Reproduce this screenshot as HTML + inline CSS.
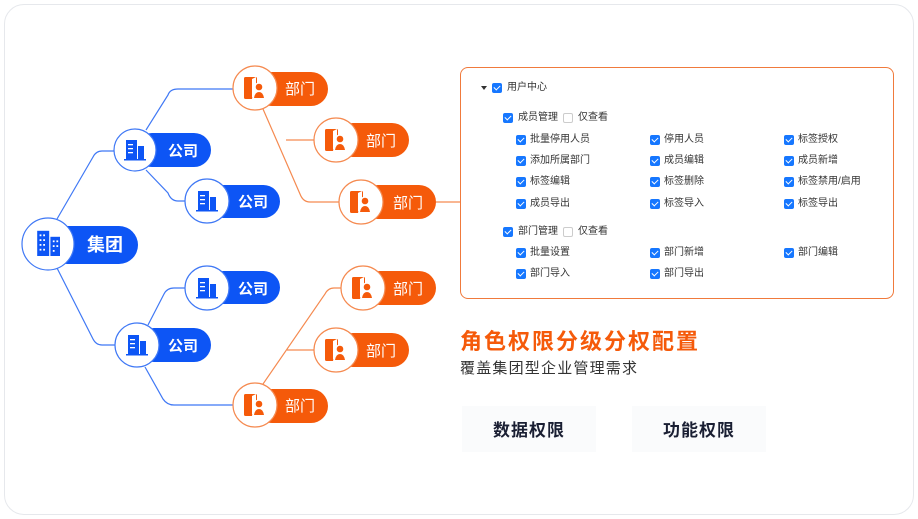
<!DOCTYPE html>
<html><head><meta charset="utf-8"><style>
*{margin:0;padding:0;box-sizing:border-box}
body{width:918px;height:519px;background:#fff;position:relative;overflow:hidden;font-family:"Liberation Sans","Noto Sans CJK SC",sans-serif}
.card{position:absolute;left:4px;top:4px;width:910px;height:511px;border:1px solid #e6e8ec;border-radius:20px;background:#fff}
.panel{position:absolute;left:460px;top:67px;width:434px;height:232px;border:1px solid #f07a3c;border-radius:8px;background:#fff}
.t{position:absolute;font-size:10px;color:#333;line-height:12px;white-space:nowrap}
.cb{position:absolute;width:10px;height:10px;border-radius:2px;background:#1677ff}
.cb::after{content:"";position:absolute;left:3px;top:1px;width:3px;height:5px;border:solid #fff;border-width:0 1.2px 1.2px 0;transform:rotate(45deg)}
.ub{position:absolute;width:10px;height:10px;border:1px solid #ccc;border-radius:2px;background:#fff}
.title{position:absolute;left:460px;top:324px;font-size:22px;font-weight:bold;color:#f55a0a;letter-spacing:2px;font-family:"Noto Sans CJK SC",sans-serif}
.sub{position:absolute;left:460px;top:357px;font-size:15px;color:#333;letter-spacing:1.2px;font-family:"Noto Sans CJK SC",sans-serif}
.btn{position:absolute;top:406px;height:46px;width:134px;background:#fafbfc;font-size:17px;font-weight:bold;color:#1a1f33;text-align:center;line-height:46px;letter-spacing:1px;font-family:"Noto Sans CJK SC",sans-serif}
</style></head><body>
<div class="card"></div>
<svg width="918" height="519" style="position:absolute;left:0;top:0">
<defs>
<g id="bld"><rect x="-9" y="-10" width="11" height="19" fill="#0d55f5"/><rect x="3" y="-4" width="6" height="13" fill="#0d55f5"/><rect x="-11" y="9" width="22" height="1.5" fill="#0d55f5"/><rect x="-7" y="-6" width="5" height="1.3" fill="#fff"/><rect x="-7" y="-2" width="5" height="1.3" fill="#fff"/><rect x="-7" y="2" width="5" height="1.3" fill="#fff"/></g>
<g id="door"><rect x="-10" y="-11" width="13" height="22" rx="1.5" fill="#f55a0a"/><path d="M-2 -9 L2 -11 L2 11 L-2 9 Z" fill="#fff"/><circle cx="5" cy="0" r="5.5" fill="#fff"/><circle cx="5" cy="-1" r="3.3" fill="#f55a0a"/><path d="M-2 11 Q-1 3 5 3 Q11 3 12 11 Z" fill="#fff"/><path d="M0 10 Q1 4 5 4 Q9 4 10 10 Z" fill="#f55a0a"/></g>
</defs>
<g fill="none" stroke="#3f78f5" stroke-width="1.2">
<path d="M57 219 L93 157 Q96 151 102 151 L114 151"/>
<path d="M57 268 L93 339 Q96 345 102 345 L116 345"/>
<path d="M146 130 L168 95 Q170 89 178 89 L233 89"/>
<path d="M146 170 L168 193 Q171 201 178 201 L185 201"/>
<path d="M148 325 L164 294 Q167 288 174 288 L185 288"/>
<path d="M145 367 L163 399 Q167 405 174 405 L233 405"/>
</g>
<g fill="none" stroke="#f58a50" stroke-width="1.2">
<path d="M263 109 L300 194 Q303 202 310 202 L340 202"/>
<path d="M286 140 L314 140"/>
<path d="M263 384 L325 294 Q328 288 334 288 L341 288"/>
<path d="M287 350 L314 350"/>
<path d="M436 202 L460 202"/>
</g>
<g font-family="Noto Sans CJK SC,sans-serif" font-weight="bold" fill="#fff">
<rect x="48" y="226" width="90" height="38" rx="19" fill="#0d55f5"/>
<circle cx="48" cy="244" r="26" fill="#fff" stroke="#3f78f5" stroke-width="1.2"/>
<g transform="translate(48,244) scale(1.2)"><rect x="-9" y="-11" width="10" height="21" fill="#0d55f5"/><rect x="2" y="-6" width="8" height="16" fill="#0d55f5"/><g fill="#fff"><rect x="-7" y="-8" width="1.5" height="1.5"/><rect x="-4" y="-8" width="1.5" height="1.5"/><rect x="-7" y="-4" width="1.5" height="1.5"/><rect x="-4" y="-4" width="1.5" height="1.5"/><rect x="-7" y="0" width="1.5" height="1.5"/><rect x="-4" y="0" width="1.5" height="1.5"/><rect x="-7" y="4" width="1.5" height="1.5"/><rect x="-4" y="4" width="1.5" height="1.5"/><rect x="4" y="-3" width="1.5" height="1.5"/><rect x="7" y="-3" width="1.5" height="1.5"/><rect x="4" y="1" width="1.5" height="1.5"/><rect x="7" y="1" width="1.5" height="1.5"/><rect x="4" y="5" width="1.5" height="1.5"/></g></g>
<text x="87" y="251" font-size="18">集团</text>
<rect x="135" y="133" width="76" height="34" rx="17" fill="#0d55f5"/>
<circle cx="135" cy="150" r="21" fill="#fff" stroke="#3f78f5" stroke-width="1.2"/>
<use href="#bld" transform="translate(135,150)"/>
<text x="168" y="156" font-size="15">公司</text>
<rect x="207" y="185" width="73" height="33" rx="16.5" fill="#0d55f5"/>
<circle cx="207" cy="201" r="22" fill="#fff" stroke="#3f78f5" stroke-width="1.2"/>
<use href="#bld" transform="translate(207,201)"/>
<text x="238" y="207" font-size="15">公司</text>
<rect x="207" y="271" width="73" height="33" rx="16.5" fill="#0d55f5"/>
<circle cx="207" cy="288" r="22" fill="#fff" stroke="#3f78f5" stroke-width="1.2"/>
<use href="#bld" transform="translate(207,288)"/>
<text x="238" y="294" font-size="15">公司</text>
<rect x="137" y="328" width="74" height="34" rx="17" fill="#0d55f5"/>
<circle cx="137" cy="345" r="22" fill="#fff" stroke="#3f78f5" stroke-width="1.2"/>
<use href="#bld" transform="translate(137,345)"/>
<text x="168" y="351" font-size="15">公司</text>
</g>
<g font-family="Noto Sans CJK SC,sans-serif" fill="#fff" font-size="15">
<rect x="255" y="72" width="73" height="34" rx="17" fill="#f55a0a"/>
<circle cx="255" cy="88" r="22" fill="#fff" stroke="#f58a50" stroke-width="1.2"/>
<use href="#door" transform="translate(254,88)"/>
<text x="285" y="94">部门</text>
<rect x="336" y="123" width="73" height="34" rx="17" fill="#f55a0a"/>
<circle cx="336" cy="140" r="22" fill="#fff" stroke="#f58a50" stroke-width="1.2"/>
<use href="#door" transform="translate(335,140)"/>
<text x="366" y="146">部门</text>
<rect x="361" y="185" width="75" height="34" rx="17" fill="#f55a0a"/>
<circle cx="361" cy="202" r="22" fill="#fff" stroke="#f58a50" stroke-width="1.2"/>
<use href="#door" transform="translate(360,202)"/>
<text x="393" y="208">部门</text>
<rect x="363" y="271" width="73" height="34" rx="17" fill="#f55a0a"/>
<circle cx="363" cy="288" r="22" fill="#fff" stroke="#f58a50" stroke-width="1.2"/>
<use href="#door" transform="translate(362,288)"/>
<text x="393" y="294">部门</text>
<rect x="336" y="333" width="73" height="34" rx="17" fill="#f55a0a"/>
<circle cx="336" cy="350" r="22" fill="#fff" stroke="#f58a50" stroke-width="1.2"/>
<use href="#door" transform="translate(335,350)"/>
<text x="366" y="356">部门</text>
<rect x="255" y="389" width="73" height="34" rx="17" fill="#f55a0a"/>
<circle cx="255" cy="405" r="22" fill="#fff" stroke="#f58a50" stroke-width="1.2"/>
<use href="#door" transform="translate(254,405)"/>
<text x="285" y="411">部门</text>
</g>
</svg>
<div class="panel"></div>
<div style="position:absolute;left:481px;top:86px;width:0;height:0;border-left:3px solid transparent;border-right:3px solid transparent;border-top:4px solid #333"></div>
<div class="cb" style="left:492px;top:83px"></div><div class="t" style="left:507px;top:82px">用户中心</div>
<div class="cb" style="left:503px;top:113px"></div><div class="t" style="left:518px;top:112px">成员管理</div>
<div class="ub" style="left:563px;top:113px"></div><div class="t" style="left:578px;top:112px">仅查看</div>
<div class="cb" style="left:516px;top:135px"></div><div class="t" style="left:530px;top:134px">批量停用人员</div>
<div class="cb" style="left:650px;top:135px"></div><div class="t" style="left:664px;top:134px">停用人员</div>
<div class="cb" style="left:784px;top:135px"></div><div class="t" style="left:798px;top:134px">标签授权</div>
<div class="cb" style="left:516px;top:156px"></div><div class="t" style="left:530px;top:155px">添加所属部门</div>
<div class="cb" style="left:650px;top:156px"></div><div class="t" style="left:664px;top:155px">成员编辑</div>
<div class="cb" style="left:784px;top:156px"></div><div class="t" style="left:798px;top:155px">成员新增</div>
<div class="cb" style="left:516px;top:177px"></div><div class="t" style="left:530px;top:176px">标签编辑</div>
<div class="cb" style="left:650px;top:177px"></div><div class="t" style="left:664px;top:176px">标签删除</div>
<div class="cb" style="left:784px;top:177px"></div><div class="t" style="left:798px;top:176px">标签禁用/启用</div>
<div class="cb" style="left:516px;top:199px"></div><div class="t" style="left:530px;top:198px">成员导出</div>
<div class="cb" style="left:650px;top:199px"></div><div class="t" style="left:664px;top:198px">标签导入</div>
<div class="cb" style="left:784px;top:199px"></div><div class="t" style="left:798px;top:198px">标签导出</div>
<div class="cb" style="left:503px;top:227px"></div><div class="t" style="left:518px;top:226px">部门管理</div>
<div class="ub" style="left:563px;top:227px"></div><div class="t" style="left:578px;top:226px">仅查看</div>
<div class="cb" style="left:516px;top:248px"></div><div class="t" style="left:530px;top:247px">批量设置</div>
<div class="cb" style="left:650px;top:248px"></div><div class="t" style="left:664px;top:247px">部门新增</div>
<div class="cb" style="left:784px;top:248px"></div><div class="t" style="left:798px;top:247px">部门编辑</div>
<div class="cb" style="left:516px;top:269px"></div><div class="t" style="left:530px;top:268px">部门导入</div>
<div class="cb" style="left:650px;top:269px"></div><div class="t" style="left:664px;top:268px">部门导出</div>
<div class="title">角色权限分级分权配置</div>
<div class="sub">覆盖集团型企业管理需求</div>
<div class="btn" style="left:462px">数据权限</div>
<div class="btn" style="left:632px">功能权限</div>
</body></html>
